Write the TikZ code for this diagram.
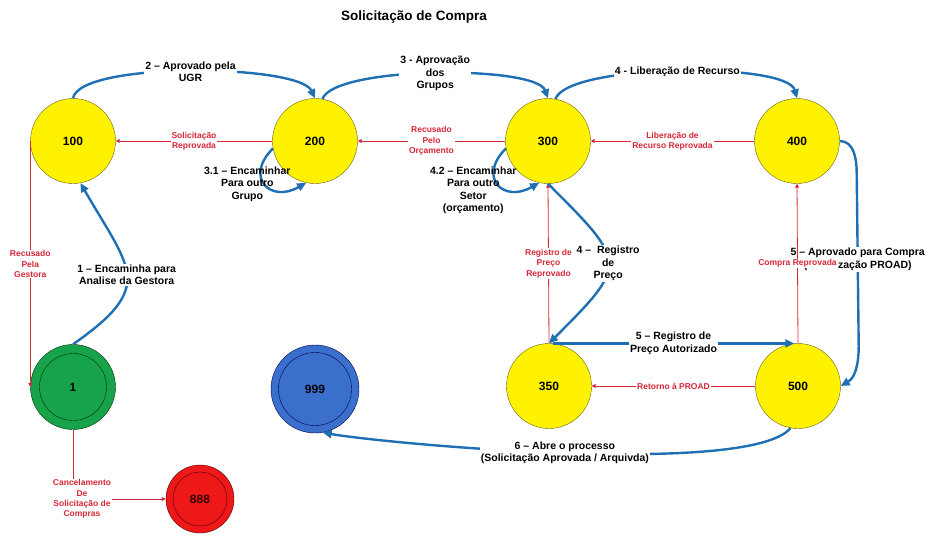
\documentclass[tikz,border=0pt]{standalone}
\usepackage{fontspec}
\setmainfont{Liberation Sans}
\usetikzlibrary{arrows.meta,calc}

\definecolor{flowblue}{RGB}{31,111,180}
\definecolor{rejred}{RGB}{214,40,57}
\definecolor{stgreen}{RGB}{22,163,74}
\definecolor{stblue}{RGB}{58,112,204}
\definecolor{stred}{RGB}{238,24,24}
\definecolor{olive}{RGB}{110,100,20}

\begin{document}
\begin{tikzpicture}[x=1pt,y=1pt,
    state/.style={circle, draw=olive, fill=yellow, minimum size=85pt, inner sep=0pt,
      font=\fontsize{12}{14}\selectfont\bfseries},
    flow/.style={draw=flowblue, line width=2.4pt, -{Triangle[length=9pt,width=8pt]}},
    back/.style={draw=rejred, line width=0.8pt, -{Triangle[length=4pt,width=4pt]}},
    lbl/.style={fill=white, align=center, inner sep=1pt,
      font=\fontsize{10.5}{12.5}\selectfont\bfseries},
    rlbl/.style={fill=white, align=center, inner sep=1pt, text=rejred,
      font=\fontsize{8.5}{10.3}\selectfont\bfseries}]

    \useasboundingbox (0,0) rectangle (928,-536);

    \node[font=\fontsize{13.5}{16}\selectfont\bfseries] (ttl) at (414,-17) {Solicitação de Compra};

    % states
    \foreach \n/\x/\y in {100/73/141, 200/315/141, 300/548/141, 400/797/141, 350/549/386, 500/798/386} {
      \node[state] (n\n) at (\x,-\y) {\n};
    }
    \node[state, fill=stgreen, draw=black!80!green] (n1) at (73,-387) {1};
    \node[state, fill=stblue, draw=black!70!blue, minimum size=88pt] (n999) at (315,-389) {999};
    \node[state, fill=stred, draw=black!70!red, minimum size=68pt, text=black!80!red] (n888) at (200,-499) {888};
    \draw[black!80!green] (n1.center) circle[radius=33.5];
    \draw[black!70!blue] (n999.center) circle[radius=36.5];
    \draw[black!70!red] (n888.center) circle[radius=27];

    % extra points for the right hand bend
    \coordinate (r1) at ($ (n400.east) + (17,-32) $);
    \coordinate (r2) at ($ (n500.east) + (18,40) $);

    % rejections
    \draw[back] (n200.west) -- node[rlbl] {Solicitação\\Reprovada} (n100.east);
    \draw[back] (n300.west) -- node[rlbl] {Recusado\\Pelo\\Orçamento} (n200.east);
    \draw[back] (n400.west) -- node[rlbl] {Liberação de\\Recurso Reprovada} (n300.east);
    \draw[back] (n100.west) -- node[rlbl] {Recusado\\Pela\\Gestora} (n1.west);
    \draw[back] (n350.north) -- node[rlbl] {Registro de\\Preço\\Reprovado} (n300.south);
    \draw[back] (n500.west) -- node[rlbl] {Retorno à PROAD} (n350.east);
    \draw[back] (n1.south) |- node[rlbl, pos=0.5, xshift=9pt] {Cancelamento\\De\\Solicitação de\\Compras} (n888.west);

    % forward flow
    \draw[flow] (n1.north) to[out=35, in=-60, looseness=1.6]
      node[lbl] {1 – Encaminha para\\Analise da Gestora} (n100.-80);
    \draw[flow] (n100.north) to[out=80, in=115, looseness=0.4]
      node[lbl] {2 – Aprovado pela\\UGR} (n200.north);
    \draw[flow] (n200.80) to[out=70, in=110, looseness=0.4]
      node[lbl] {3 - Aprovação\\dos\\Grupos} (n300.north);
    \draw[flow] (n300.80) to[out=70, in=105, looseness=0.4]
      node[lbl] {4 - Liberação de Recurso} (n400.north);
    \draw[flow] (n200.190) to[out=225, in=210, looseness=2.2]
      node[lbl, fill=none, xshift=-18pt] {3.1 – Encaminhar\\Para outro\\Grupo} (n200.258);
    \draw[flow] (n300.190) to[out=225, in=210, looseness=2.2]
      node[lbl, fill=none, xshift=-25pt, yshift=-6pt] {4.2 – Encaminhar\\Para outro\\Setor\\(orçamento)} (n300.258);
    \draw[flow] (n300.south) to[out=-45, in=45, looseness=1.8]
      node[lbl] {4 –\ \ Registro\\de\\Preço} (n350.north);
    \draw[flow] (n350.85) -- node[lbl] {5 – Registro de\\Preço Autorizado} (n500.95);
    \draw[flow] (n400.east) to[out=0, in=90] (r1) -- node[lbl] {5 – Aprovado para Compra\\(Autorização PROAD)} (r2) to[out=-90, in=30] (n500.east);
    \draw[flow] (n500.-100) to[out=-130, in=-10, looseness=0.35]
      node[lbl] {6 – Abre o processo\\(Solicitação Aprovada / Arquivda)} (n999.-80);

    \draw[back] (n500.north) -- node[rlbl] {Compra Reprovada} (n400.south);

  \end{tikzpicture}
\end{document}
